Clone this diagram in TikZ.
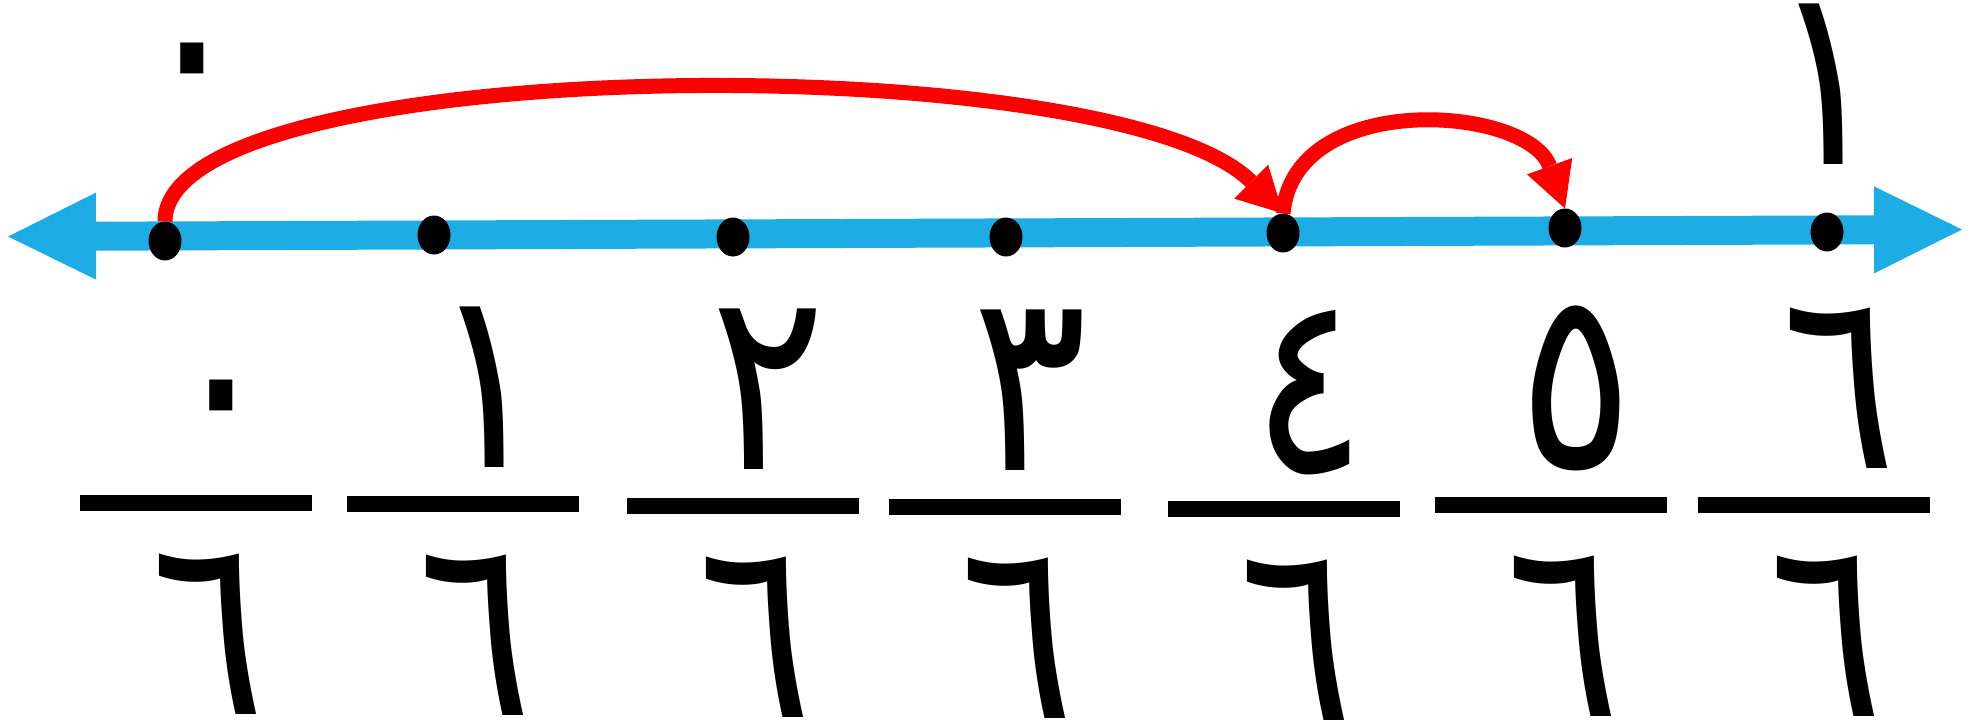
\documentclass[tikz,border=0pt]{standalone}
\usepackage{fontspec}
\newfontfamily\arabicfont[Script=Arabic, FakeStretch=0.85]{DejaVu Sans}
\definecolor{azulRecta}{RGB}{29,172,227}
\definecolor{rojoSalto}{RGB}{255,0,0}
\usetikzlibrary{shapes.geometric, arrows.meta, positioning}

\begin{document}
\begin{tikzpicture}[
  node distance=0.27cm,
  punto/.style={ellipse, fill=black, inner sep=0pt, outer sep=0pt,
                minimum width=0.33cm, minimum height=0.39cm},
  barra/.style={rectangle, fill=black, inner sep=0pt,
                minimum width=2.32cm, minimum height=0.16cm},
  cifra/.style={font=\arabicfont\fontsize{72}{72}\selectfont, inner sep=0pt,
                text height=1.62cm, text depth=0pt},
  numerador/.style={cifra, xshift=0.25cm},
  denominador/.style={cifra, xshift=0.12cm},
  recta/.style={azulRecta, line width=0.29cm,
                {Triangle[length=0.88cm, width=0.87cm, line width=0pt]}-{Triangle[length=0.88cm, width=0.87cm, line width=0pt]}},
  salto/.style={rojoSalto, line width=0.15cm,
                -{Triangle[length=0.45cm, width=0.48cm, line width=0pt]}}
]
\useasboundingbox (0,0) rectangle (19.72,7.24);

% Recta numerica
\coordinate (izq) at (0.08,4.875);
\coordinate (der) at (19.62,4.945);
\draw[recta] (izq) -- (der);

% Puntos sobre la recta
\node[punto] (d0) at (1.65,4.83) {};
\node[punto] (d1) at (4.34,4.89) {};
\node[punto] (d2) at (7.33,4.87) {};
\node[punto] (d3) at (10.06,4.87) {};
\node[punto] (d4) at (12.83,4.91) {};
\node[punto] (d5) at (15.65,4.96) {};
\node[punto] (d6) at (18.27,4.92) {};

% Saltos
\draw[salto] (d0.north) to[out=90, in=135, out distance=1.7cm, in distance=2.4cm] (d4.north);
\draw[salto] (d4.north) to[out=85, in=110, out distance=1.25cm, in distance=1.1cm] (d5.north);

% Extremos
\node[cifra, above=0.91cm of d0, xshift=0.27cm] (cero) {٠};
\node[cifra, above=0.47cm of d6] (uno) {١};

% Fracciones
\node[barra] (b0) at (1.96,2.21) {};
\node[barra] (b1) at (4.63,2.20) {};
\node[barra] (b2) at (7.43,2.18) {};
\node[barra] (b3) at (10.05,2.17) {};
\node[barra] (b4) at (12.84,2.15) {};
\node[barra] (b5) at (15.51,2.19) {};
\node[barra] (b6) at (18.14,2.19) {};

\node[numerador, above=of b0] (n0) {٠};
\node[numerador, above=of b1] (n1) {١};
\node[numerador, above=of b2] (n2) {٢};
\node[numerador, above=of b3] (n3) {٣};
\node[numerador, above=of b4] (n4) {٤};
\node[numerador, above=of b5] (n5) {٥};
\node[numerador, above=of b6] (n6) {٦};

\node[denominador, below=0.4cm of b0] (m0) {٦};
\node[denominador, below=0.4cm of b1] (m1) {٦};
\node[denominador, below=0.4cm of b2] (m2) {٦};
\node[denominador, below=0.4cm of b3] (m3) {٦};
\node[denominador, below=0.4cm of b4] (m4) {٦};
\node[denominador, below=0.4cm of b5] (m5) {٦};
\node[denominador, below=0.4cm of b6] (m6) {٦};

\end{tikzpicture}
\end{document}
